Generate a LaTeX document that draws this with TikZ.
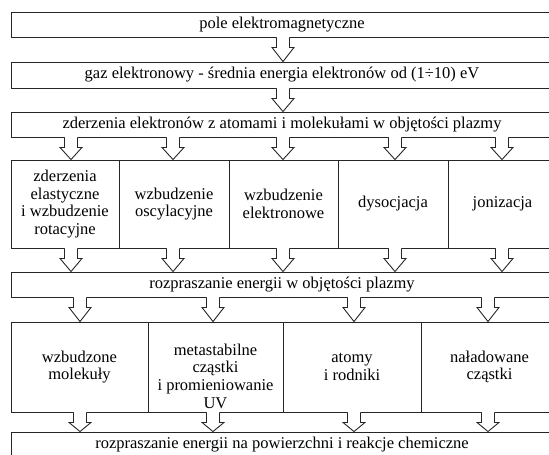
\documentclass[tikz,border=0pt]{standalone}
\usepackage{fontspec}
\setmainfont{Liberation Serif}
\usepackage{tikz}
\usetikzlibrary{calc}

% hollow block arrow from the bottom of one box to the top of the next
\newcommand{\flowarrow}[3]{%
  \fill[white] let \p1=(#1.south), \p2=(#2.north) in
    ({#3pt-6.5pt},{\y1+1pt}) -- ({#3pt-6.5pt},{\y1-10pt}) -- ({#3pt-11pt},{\y1-10pt})
    -- (#3pt,\y2) -- ({#3pt+11pt},{\y1-10pt}) -- ({#3pt+6.5pt},{\y1-10pt})
    -- ({#3pt+6.5pt},{\y1+1pt}) -- cycle;
  \draw[flowline] let \p1=(#1.south), \p2=(#2.north) in
    ({#3pt-6.5pt},\y1) -- ({#3pt-6.5pt},{\y1-10pt}) -- ({#3pt-11pt},{\y1-10pt})
    -- (#3pt,\y2) -- ({#3pt+11pt},{\y1-10pt}) -- ({#3pt+6.5pt},{\y1-10pt})
    -- ({#3pt+6.5pt},\y1);
}

\begin{document}
\begin{tikzpicture}[x=1pt, y=-1pt,
  flowline/.style={draw=black!85, line width=0.9pt, line join=miter},
  txt/.style={align=center, inner sep=0pt, font=\fontsize{16.5}{17.7}\selectfont},
  wbox/.style={flowline, fill=white, txt, minimum width=542pt, minimum height=25pt},
  cbox/.style={flowline, fill=white, txt}
]
  \useasboundingbox (0,0) rectangle (549,455);
  \clip (0,0) rectangle (549,455);

  \node[wbox] (pole) at (282,24.5) {pole elektromagnetyczne};
  \node[wbox, minimum height=26pt] (gaz) at (282,75) {gaz elektronowy - średnia energia elektronów od (1÷10) eV};
  \node[wbox] (zderz) at (282,124.5) {zderzenia elektronów z atomami i molekułami w objętości plazmy};

  \node[cbox, minimum width=108pt, minimum height=88pt] (elast) at (65,204) {zderzenia\\elastyczne\\i wzbudzenie\\rotacyjne};
  \node[cbox, minimum width=110pt, minimum height=88pt] (oscyl) at (174,204) {wzbudzenie\\oscylacyjne};
  \node[cbox, minimum width=109pt, minimum height=88pt] (elek) at (283.5,204) {wzbudzenie\\elektronowe};
  \node[cbox, minimum width=110pt, minimum height=88pt] (dysoc) at (393,204) {dysocjacja};
  \node[cbox, minimum width=109pt, minimum height=88pt] (joniz) at (502.5,204) {jonizacja};

  \node[wbox] (objet) at (282,284.5) {rozpraszanie energii w objętości plazmy};

  \node[cbox, minimum width=137pt, minimum height=90pt] (molek) at (79.5,367) {wzbudzone\\molekuły};
  \node[cbox, minimum width=135pt, minimum height=90pt] (metast) at (215.5,367) {};
  \node[txt] (metastt) at (215.5,376) {metastabilne\\cząstki\\i promieniowanie\\UV};
  \node[cbox, minimum width=138pt, minimum height=90pt] (atomy) at (352,367) {atomy\\i rodniki};
  \node[cbox, minimum width=137pt, minimum height=90pt] (nalad) at (489.5,367) {naładowane\\cząstki};

  \node[wbox] (powierz) at (282,444.5) {rozpraszanie energii na powierzchni i reakcje chemiczne};

  \flowarrow{pole}{gaz}{283}
  \flowarrow{gaz}{zderz}{283}
  \flowarrow{zderz}{elast}{71}
  \flowarrow{zderz}{oscyl}{173}
  \flowarrow{zderz}{elek}{283}
  \flowarrow{zderz}{dysoc}{395}
  \flowarrow{zderz}{joniz}{502}
  \flowarrow{elast}{objet}{71}
  \flowarrow{oscyl}{objet}{173}
  \flowarrow{elek}{objet}{283}
  \flowarrow{dysoc}{objet}{395}
  \flowarrow{joniz}{objet}{502}
  \flowarrow{objet}{molek}{80}
  \flowarrow{objet}{metast}{213}
  \flowarrow{objet}{atomy}{354}
  \flowarrow{objet}{nalad}{488}
  \flowarrow{molek}{powierz}{80}
  \flowarrow{metast}{powierz}{213}
  \flowarrow{atomy}{powierz}{354}
  \flowarrow{nalad}{powierz}{488}
\end{tikzpicture}
\end{document}
